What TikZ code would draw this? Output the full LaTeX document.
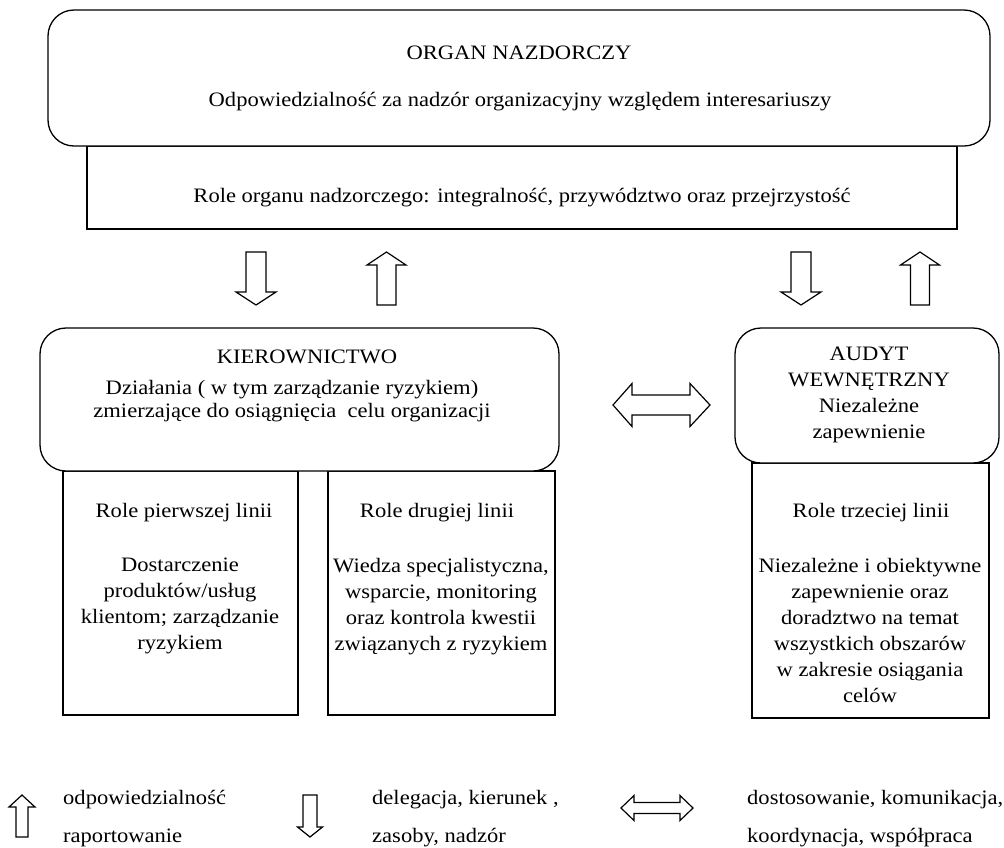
\documentclass[tikz,border=0pt]{standalone}
\usepackage{fontspec}
\setmainfont{Liberation Serif}[FakeStretch=1.1]
\begin{document}
\begin{tikzpicture}[x=1pt,y=-1pt,
  every node/.style={font=\fontsize{20.5}{26}\selectfont, inner sep=0pt, align=center},
  line/.style={line width=1.3pt, draw=black},
  rbox/.style={line, fill=white, rounded corners=26pt},
  sbox/.style={line, fill=white},
  blk/.style={line width=1.2pt, draw=black, fill=white, line join=miter},
  leg/.style={anchor=base west}
]
\useasboundingbox (0,0) rectangle (1004,847);
% boxes
\node[sbox, minimum width=870pt, minimum height=83pt] (rolebox) at (522,187.5) {};
\node[rbox, minimum width=942pt, minimum height=136pt] (organ) at (519,78) {};
\node[sbox, minimum width=235pt, minimum height=244pt] (r1) at (180.5,593) {};
\node[sbox, minimum width=227pt, minimum height=244pt] (r2) at (441.5,593) {};
\node[sbox, minimum width=237pt, minimum height=255pt] (r3) at (870.5,590.5) {};
\node[rbox, minimum width=519pt, minimum height=143pt] (kier) at (299.5,399.5) {};
\node[rbox, minimum width=264pt, minimum height=135pt] (audyt) at (867,395.5) {};
% texts
\node (torgan) at (519,53) {ORGAN NAZDORCZY};
\node (todp) at (520,102) {Odpowiedzialność za nadzór organizacyjny względem interesariuszy};
\node (trole) at (522,198) {Role organu nadzorczego: integralność, przywództwo oraz przejrzystość};
\node (tkier) at (307,357) {KIEROWNICTWO};
\node[font=\fontsize{20.5}{23}\selectfont] (tdzial) at (292,401.5) {Działania ( w tym zarządzanie ryzykiem)\\zmierzające do osiągnięcia\ \ celu organizacji};
\node (taud) at (869,395) {AUDYT\\WEWNĘTRZNY\\Niezależne\\zapewnienie};
\node (tr1) at (184,513) {Role pierwszej linii};
\node (tr1b) at (180,606) {Dostarczenie\\produktów/usług\\klientom; zarządzanie\\ryzykiem};
\node (tr2) at (437,513) {Role drugiej linii};
\node (tr2b) at (441,607) {Wiedza specjalistyczna,\\wsparcie, monitoring\\oraz kontrola kwestii\\związanych z ryzykiem};
\node (tr3) at (871,513) {Role trzeciej linii};
\node (tr3b) at (870,630) {Niezależne i obiektywne\\zapewnienie oraz\\doradztwo na temat\\wszystkich obszarów\\w zakresie osiągania\\celów};
% block arrows
\draw[blk] (246,252) -- (266,252) -- (266,292) -- (276,292) -- (256,305) -- (236,292) -- (246,292) -- cycle;
\draw[blk] (386.5,252) -- (406,265) -- (396,265) -- (396,305) -- (377,305) -- (377,265) -- (367,265) -- cycle;
\draw[blk] (791,252) -- (811,252) -- (811,292) -- (821,292) -- (801,305) -- (781,292) -- (791,292) -- cycle;
\draw[blk] (920,252) -- (939.5,265) -- (929.5,265) -- (929.5,305) -- (910.5,305) -- (910.5,265) -- (900.5,265) -- cycle;
\draw[blk] (613,405) -- (632,383.5) -- (632,395) -- (690,395) -- (690,383.5) -- (710,405) -- (690,426.5) -- (690,415) -- (632,415) -- (632,426.5) -- cycle;
% legend
\draw[blk] (22,795) -- (35,807) -- (28,807) -- (28,837) -- (16,837) -- (16,807) -- (9,807) -- cycle;
\draw[blk] (303,795) -- (317,795) -- (317,827) -- (322.5,827) -- (310,837) -- (297.5,827) -- (303,827) -- cycle;
\draw[blk] (621,808) -- (634,795.5) -- (634,802.5) -- (680,802.5) -- (680,795.5) -- (693,808) -- (680,820.5) -- (680,813.5) -- (634,813.5) -- (634,820.5) -- cycle;
\node[leg] (l1a) at (63,804) {odpowiedzialność};
\node[leg] (l1b) at (63,842) {raportowanie};
\node[leg] (l2a) at (372,804) {delegacja, kierunek ,};
\node[leg] (l2b) at (372,842) {zasoby, nadzór};
\node[leg] (l3a) at (747,804) {dostosowanie, komunikacja,};
\node[leg] (l3b) at (747,842) {koordynacja, współpraca};
\end{tikzpicture}
\end{document}
